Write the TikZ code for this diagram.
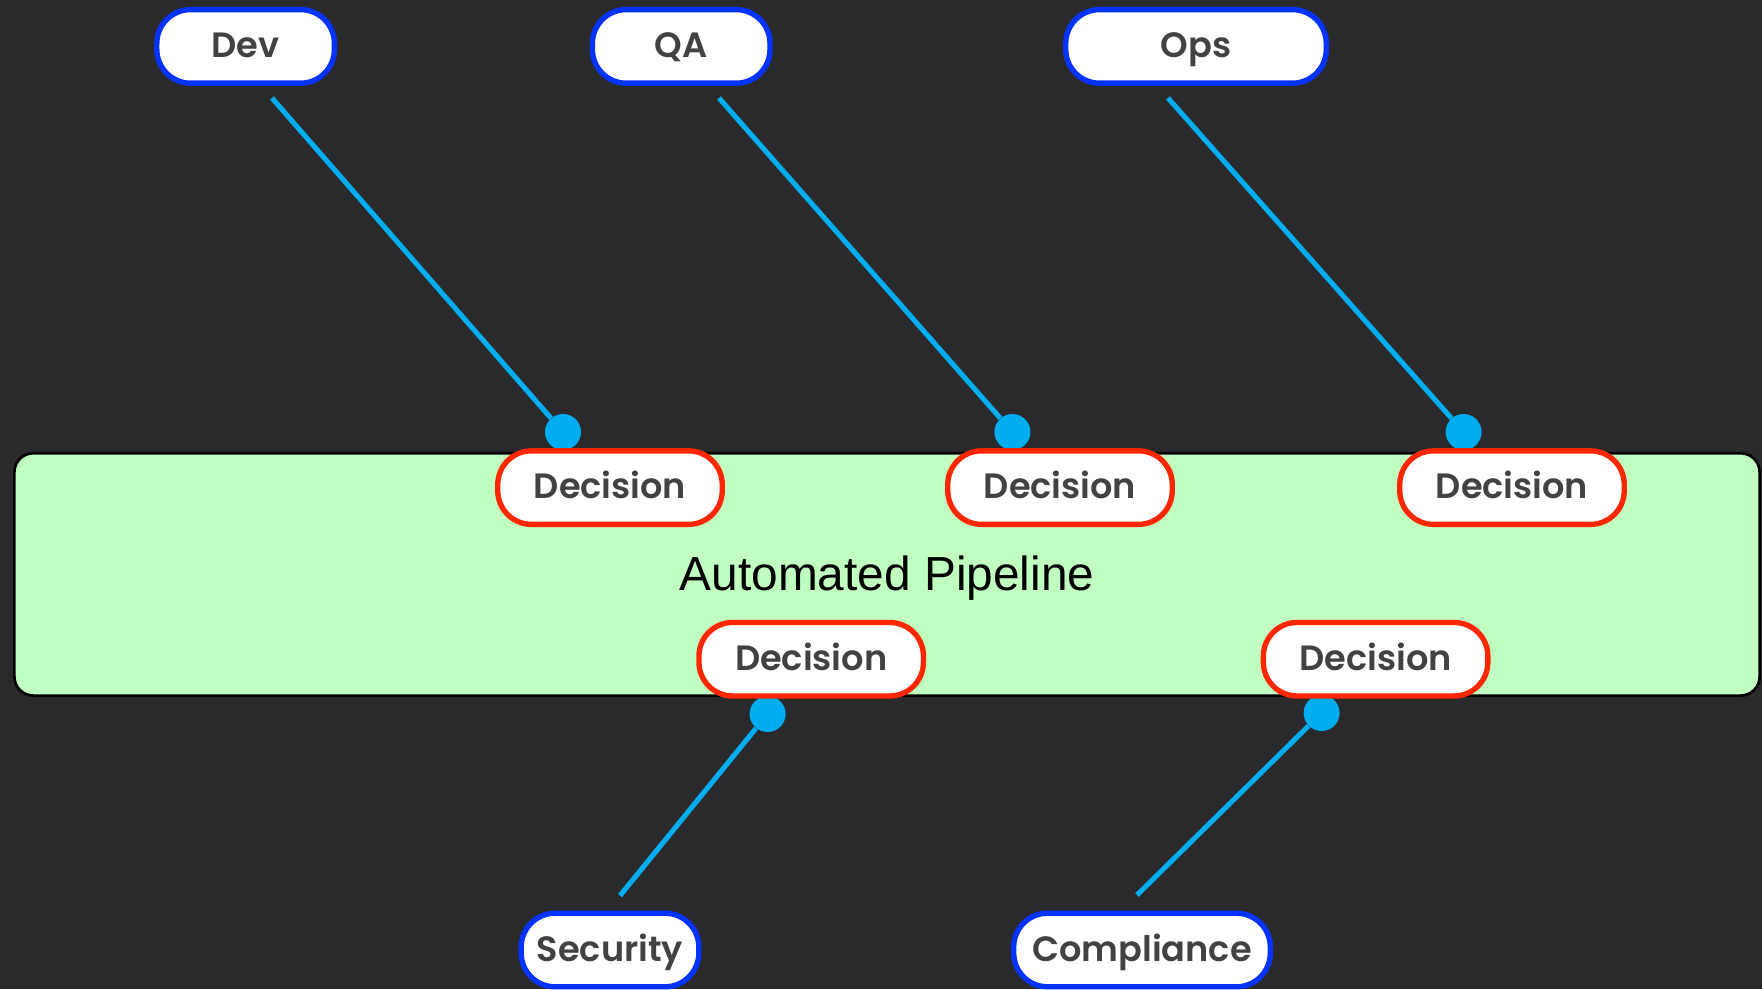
\documentclass[tikz,border=0pt]{standalone}
\usepackage{fontspec}
\setmainfont{Liberation Sans}
\newfontfamily\pillfont{Poppins SemiBold}
\usepackage{tikz}
\definecolor{bgdark}{RGB}{42,42,45}
\definecolor{pipegreen}{RGB}{192,255,192}
\definecolor{roleblue}{RGB}{4,51,255}
\definecolor{gatered}{RGB}{255,38,0}
\definecolor{linkcyan}{RGB}{0,174,239}
\definecolor{pilltext}{RGB}{66,66,66}

\begin{document}
\begin{tikzpicture}[
  pill/.style={draw, fill=white, line width=3.8pt, rounded corners=24pt,
               minimum height=52.3pt, inner sep=0pt, text height=18pt, text depth=2pt,
               font=\pillfont\fontsize{25}{30}\selectfont, text=pilltext},
  role/.style={pill, draw=roleblue, minimum width=126.3pt},
  decision/.style={pill, draw=gatered, minimum width=159.7pt},
  pipeline/.style={draw=black, fill=pipegreen, line width=1.9pt, rounded corners=13.5pt,
                   minimum width=1241.4pt, minimum height=172.4pt, text depth=2pt,
                   font=\fontsize{34}{40}\selectfont},
  link/.style={linkcyan, line width=3.6pt},
  joint/.style={circle, fill=linkcyan, inner sep=0pt, minimum size=25.6pt}
]

% Background
\fill[bgdark] (0,0) rectangle (44.05,-24.725);
\useasboundingbox (0,0) rectangle (44.05,-24.725);

% Pipeline band
\node[pipeline] (pipe) at (22.175, -14.36) {Automated Pipeline};

% Free ends of the links
\coordinate (dev-a) at (6.8, -2.45);
\coordinate (qa-a) at (17.975, -2.45);
\coordinate (ops-a) at (29.2, -2.45);
\coordinate (sec-a) at (15.5, -22.39);
\coordinate (comp-a) at (28.425, -22.375);

% Joints
\node[joint] (j1) at (14.075, -10.8) {};
\node[joint] (j2) at (25.31, -10.8) {};
\node[joint] (j3) at (36.59, -10.8) {};
\node[joint] (j4) at (19.19, -17.85) {};
\node[joint] (j5) at (33.04, -17.825) {};

% Links
\draw[link] (dev-a) -- (j1);
\draw[link] (qa-a) -- (j2);
\draw[link] (ops-a) -- (j3);
\draw[link] (sec-a) -- (j4);
\draw[link] (comp-a) -- (j5);

% Decisions
\node[decision] (d1) at (15.25, -12.19) {Decision};
\node[decision] (d2) at (26.5, -12.19) {Decision};
\node[decision] (d3) at (37.8, -12.19) {Decision};
\node[decision] (d4) at (20.28, -16.48) {Decision};
\node[decision] (d5) at (34.39, -16.48) {Decision};

% Roles
\node[role] (dev) at (6.14, -1.16) {Dev};
\node[role] (qa) at (17.03, -1.16) {QA};
\node[role, minimum width=185.3pt] (ops) at (29.9, -1.16) {Ops};
\node[role] (sec) at (15.25, -23.75) {Security};
\node[role, minimum width=182.5pt] (comp) at (28.55, -23.75) {Compliance};

\end{tikzpicture}
\end{document}
